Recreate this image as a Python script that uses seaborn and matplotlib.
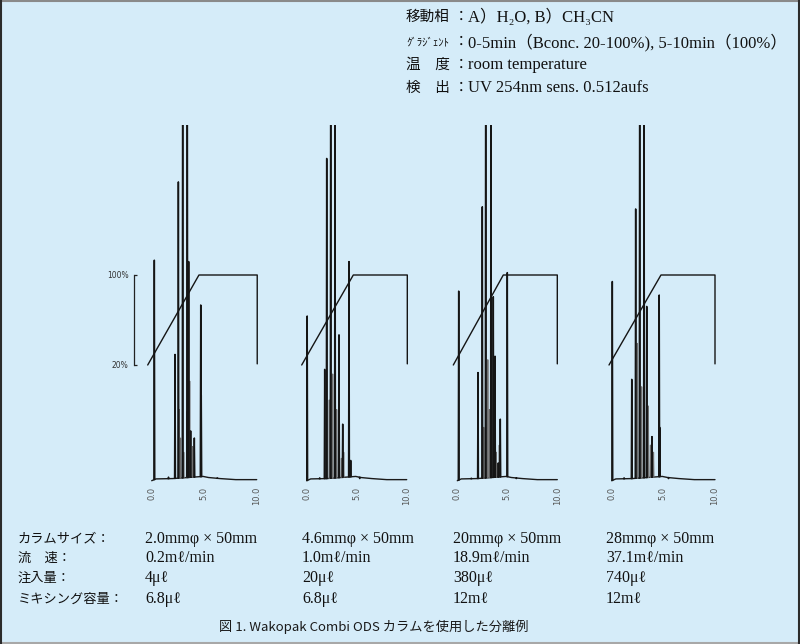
import numpy as np
import pandas as pd
import matplotlib.pyplot as plt
from matplotlib.lines import Line2D
import seaborn as sns

# Chromatogram data (time in min, peak height in % of panel height;
# peaks taller than 100 run off the top of the panel)
time_ticks = [0, 5, 10]
time_labels = ["0.0", "5.0", "10.0"]

p1_peak_t = [0.25, 1.6, 2.22, 2.54, 2.95, 3.39, 3.52, 3.71, 4.06, 4.67, 4.72, 6.25]
p1_peak_h = [62, 1.0, 35.5, 84, 130, 130, 61.6, 14, 12, 49.4, 24, 0.8]
p1_gray_t = [2.63, 2.75, 3.05, 3.34, 3.62, 3.9]
p1_gray_h = [20, 12, 8, 19.4, 28, 9.6]

p2_peak_t = [0.05, 1.3, 1.8, 2.0, 2.4, 2.83, 3.23, 3.6, 4.23, 4.4, 5.3]
p2_peak_h = [46.3, 0.8, 31.3, 90.6, 130, 130, 41, 15.9, 61.6, 5.7, 0.6]
p2_gray_t = [2.26, 2.6, 3.0, 3.47, 3.7]
p2_gray_h = [22.7, 30, 20, 6.3, 8]

p3_peak_t = [0.14, 1.4, 2.07, 2.5, 2.84, 3.37, 3.6, 3.77, 4.1, 4.3, 5.0, 5.9]
p3_peak_h = [53.3, 0.7, 30.4, 77, 130, 130, 51.7, 35, 5, 17.3, 58.5, 0.6]
p3_gray_t = [2.65, 3.05, 3.2, 3.9, 4.2]
p3_gray_h = [15, 34, 20, 8, 10]

p4_peak_t = [0.06, 1.2, 1.94, 2.32, 2.71, 3.13, 3.39, 3.9, 4.6, 4.65, 5.5]
p4_peak_h = [56, 0.8, 28.5, 76.4, 130, 130, 49, 12.4, 52.2, 15, 0.6]
p4_gray_t = [2.48, 2.9, 3.55, 3.75, 4.05]
p4_gray_h = [38.6, 26.4, 21, 10, 8]

baseline_t = [0.0, 0.4, 2.0, 4.9, 5.4, 6.5, 8.0, 10.0]
baseline_h = [0.0, 0.5, 0.6, 1.2, 0.9, 0.6, 0.3, 0.3]

# gradient programme (B conc. %) as drawn on each panel
grad_levels = [20, 100, 100, 21]
p1_grad_t = [-0.38, 4.5, 10.05, 10.05]
p2_grad_t = [-0.5, 4.66, 10.06, 10.06]
p3_grad_t = [-0.4, 4.6, 10.0, 10.0]
p4_grad_t = [-0.26, 4.77, 10.0, 10.0]

cond_labels = ["移動相", "ｸﾞﾗｼﾞｪﾝﾄ", "温　度", "検　出"]
cond_values = ["A）H₂O, B）CH₃CN",
               "0-5min（Bconc. 20-100%), 5-10min（100%）",
               "room temperature",
               "UV 254nm sens. 0.512aufs"]

row_labels = ["カラムサイズ：", "流　速：", "注入量：", "ミキシング容量："]
column_sizes = ["2.0mmφ × 50mm", "4.6mmφ × 50mm", "20mmφ × 50mm", "28mmφ × 50mm"]
flow_rates = ["0.2mℓ/min", "1.0mℓ/min", "18.9mℓ/min", "37.1mℓ/min"]
inject_vols = ["4μℓ", "20μℓ", "380μℓ", "740μℓ"]
mixing_vols = ["6.8μℓ", "6.8μℓ", "12mℓ", "12mℓ"]

caption = "図 1. Wakopak Combi ODS カラムを使用した分離例"

# layout (pixels of the 800x644 picture)
W, H = 800, 644
BG = "#d5ecf9"
panel_x0 = [151.7, 306.7, 457.3, 611.7]     # pixel of t = 0
panel_x10 = [256.7, 406.7, 557.3, 715.0]    # pixel of t = 10
BASE_PX, TOP_PX = 480.7, 125.0
XMIN, XMAX = -0.6, 10.4
YMIN = -1.0
G20_PX, G100_PX = 365.0, 275.0

sns.set_theme(style="white")
plt.rcParams["font.family"] = ["Liberation Serif", "Noto Sans CJK JP", "DejaVu Sans"]

fig = plt.figure(figsize=(W / 100, H / 100), dpi=100)
fig.patch.set_facecolor(BG)


def peaks_frame(ts, hs, w=0.04):
    rows = []
    for k, (t, h) in enumerate(zip(ts, hs)):
        b = np.interp(t, baseline_t, baseline_h)
        rows += [(t - w, b, k), (t, h, k), (t + w, b, k)]
    return pd.DataFrame(rows, columns=["t", "h", "unit"])


panels = [
    (p1_peak_t, p1_peak_h, p1_gray_t, p1_gray_h, p1_grad_t),
    (p2_peak_t, p2_peak_h, p2_gray_t, p2_gray_h, p2_grad_t),
    (p3_peak_t, p3_peak_h, p3_gray_t, p3_gray_h, p3_grad_t),
    (p4_peak_t, p4_peak_h, p4_gray_t, p4_gray_h, p4_grad_t),
]

ppu = (BASE_PX - TOP_PX) / 100.0
bot_px = BASE_PX - YMIN * ppu
gpp = (G20_PX - G100_PX) / 80.0
g_top = 100 + (G100_PX - TOP_PX) / gpp
g_bot = 20 - (bot_px - G20_PX) / gpp

for i, (pt, ph, gt, gh, grad_t) in enumerate(panels):
    ppm = (panel_x10[i] - panel_x0[i]) / 10.0
    left = panel_x0[i] + XMIN * ppm
    ax = fig.add_axes([left / W, 1 - bot_px / H, (XMAX - XMIN) * ppm / W, (bot_px - TOP_PX) / H])
    ax.patch.set_alpha(0)

    sns.lineplot(x=baseline_t, y=baseline_h, color="#1a1a1a", lw=1.0, ax=ax)
    sns.lineplot(data=peaks_frame(gt, gh, 0.035), x="t", y="h", units="unit",
                 estimator=None, sort=False, color="#6f6f6f", lw=0.8, ax=ax)
    sns.lineplot(data=peaks_frame(pt, ph), x="t", y="h", units="unit",
                 estimator=None, sort=False, color="#151515", lw=1.1, ax=ax)

    ax.set_xlim(XMIN, XMAX)
    ax.set_ylim(YMIN, 100)
    ax.set_xticks(time_ticks, time_labels, rotation=90)
    ax.set_yticks([])
    ax.tick_params(axis="x", length=0, pad=2, labelsize=6, labelcolor="#555555")
    for lab in ax.get_xticklabels():
        lab.set_family("DejaVu Sans")
    ax.set_xlabel("")
    ax.set_ylabel("")
    for s in ax.spines.values():
        s.set_visible(False)

    ax2 = ax.twinx()
    sns.lineplot(x=grad_t, y=grad_levels, sort=False, estimator=None,
                 color="#151515", lw=1.0, ax=ax2)
    ax2.set_xlim(XMIN, XMAX)
    ax2.set_ylim(g_bot, g_top)
    ax2.set_ylabel("")
    for s in ax2.spines.values():
        s.set_visible(False)
    if i == 0:
        ax2.yaxis.tick_left()
        ax2.spines["left"].set_visible(True)
        ax2.spines["left"].set_bounds(20, 100)
        ax2.spines["left"].set_position(("outward", (left - 134) * 0.72))
        ax2.spines["left"].set_color("#222222")
        ax2.spines["left"].set_linewidth(0.9)
        ax2.set_yticks([20, 100], ["20%", "100%"])
        ax2.tick_params(axis="y", direction="in", length=2.5, width=0.9, color="#222222",
                        pad=4, labelsize=5.5, labelcolor="#333333")
        for lab in ax2.get_yticklabels():
            lab.set_family("DejaVu Sans")
    else:
        ax2.set_yticks([])

# conditions block (top right)
cond_y = [17, 42, 65, 88]
for k, (lab, val) in enumerate(zip(cond_labels, cond_values)):
    fs = 7.8 if k == 1 else 10.5
    fig.text(406 / W, 1 - cond_y[k] / H, lab, ha="left", va="center", fontsize=fs,
             family="Noto Sans CJK JP", color="#111111")
    fig.text(461 / W, 1 - cond_y[k] / H, "：", ha="center", va="center", fontsize=10.5,
             family="Noto Sans CJK JP", color="#111111")
    fig.text(468 / W, 1 - cond_y[k] / H, val, ha="left", va="center", fontsize=12,
             color="#111111")

# table under the panels
row_y = [539, 558, 578, 599]
col_x = [145, 302, 453, 606]
rows = [column_sizes, flow_rates, inject_vols, mixing_vols]
for r, (lab, vals) in enumerate(zip(row_labels, rows)):
    fig.text(18 / W, 1 - row_y[r] / H, lab, ha="left", va="center", fontsize=9.5,
             family="Noto Sans CJK JP", color="#111111")
    for c, v in enumerate(vals):
        fig.text(col_x[c] / W, 1 - row_y[r] / H, v, ha="left", va="center",
                 fontsize=11.5, color="#111111")

fig.text(219 / W, 1 - 627 / H, caption, ha="left", va="center", fontsize=9.5,
         family=["Noto Sans CJK JP", "DejaVu Sans"], color="#1a1a1a")

# frame
fig.add_artist(Line2D([0, 1], [1 - 1 / H, 1 - 1 / H], transform=fig.transFigure, color="#8a8a8a", lw=1.5))
fig.add_artist(Line2D([0, 1], [1.5 / H, 1.5 / H], transform=fig.transFigure, color="#a8a8a8", lw=1.5))
fig.add_artist(Line2D([1 / W, 1 / W], [0, 1], transform=fig.transFigure, color="#2b2b2b", lw=1.5))
fig.add_artist(Line2D([1 - 1 / W, 1 - 1 / W], [0, 1], transform=fig.transFigure, color="#2b2b2b", lw=1.5))

fig.savefig("out.png", dpi=100, facecolor=BG)
